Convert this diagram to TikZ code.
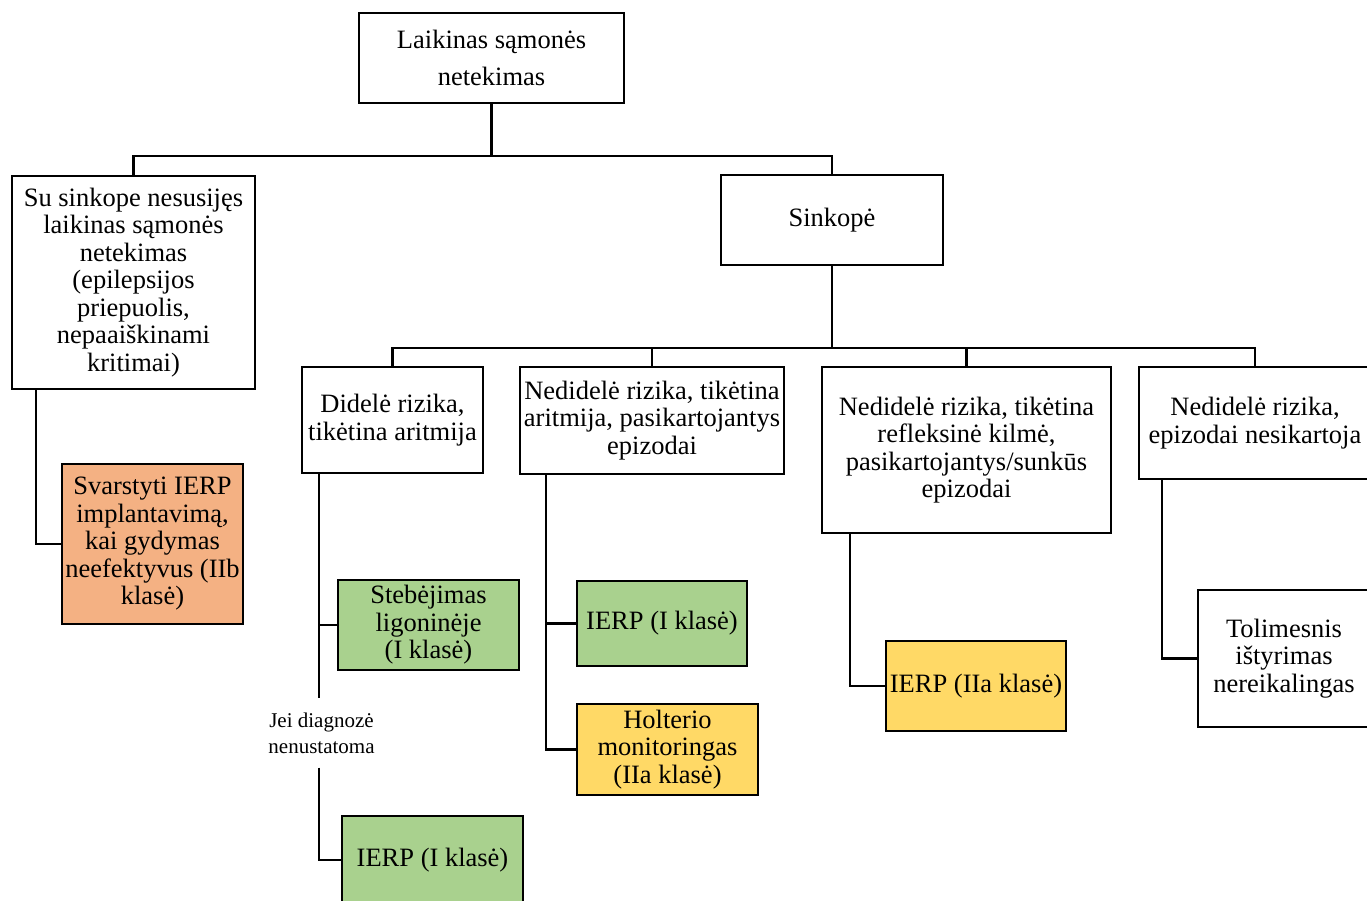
\documentclass[tikz,border=0pt]{standalone}
\usepackage{fontspec}
\setmainfont{Liberation Serif}
\usepackage{tikz}
\usetikzlibrary{positioning,calc}
\definecolor{clsorange}{HTML}{F4B183}
\definecolor{clsgreen}{HTML}{A9D18E}
\definecolor{clsyellow}{HTML}{FFD966}

\begin{document}
\begin{tikzpicture}[
  x=1pt,y=-1pt,
  font=\fontsize{26.5}{27.5}\selectfont,
  box/.style={draw,line width=2.2pt,align=center,inner sep=0pt,fill=white},
  link/.style={line width=2.2pt},
  note/.style={align=center,inner xsep=0pt,inner ysep=14pt,font=\fontsize{21}{26}\selectfont},
]
  \useasboundingbox (0,0) rectangle (1367,901);
  \clip (0,0) rectangle (1367,901);
  \node[box,minimum width=265,minimum height=90,font=\fontsize{26.5}{37}\selectfont] (loss) at (491.5,58) {Laikinas sąmonės\\netekimas};
  \node[box,minimum width=243,minimum height=213] (nonsync) at (133.5,282.5) {Su sinkope nesusijęs\\laikinas sąmonės\\netekimas\\(epilepsijos\\priepuolis,\\nepaaiškinami\\kritimai)};
  \node[box,minimum width=222,minimum height=90] (sync) at (832,220) {Sinkopė};
  \node[box,minimum width=181,minimum height=106] (high) at (392.5,420) {Didelė rizika,\\tikėtina aritmija};
  \node[box,minimum width=264,minimum height=107] (lowarr) at (652,420.5) {Nedidelė rizika, tikėtina\\aritmija, pasikartojantys\\epizodai};
  \node[box,minimum width=289,minimum height=166] (lowrefl) at (966.5,450) {Nedidelė rizika, tikėtina\\refleksinė kilmė,\\pasikartojantys/sunkūs\\epizodai};
  \node[box,minimum width=232,minimum height=112] (lownorep) at (1255,423) {Nedidelė rizika,\\epizodai nesikartoja};
  \node[box,fill=clsorange,minimum width=181,minimum height=160] (consider) at (152.5,544) {Svarstyti IERP\\implantavimą,\\kai gydymas\\neefektyvus (IIb\\klasė)};
  \node[box,fill=clsgreen,minimum width=181,minimum height=90] (observe) at (428.5,625) {Stebėjimas\\ligoninėje\\(I klasė)};
  \node[note] (undiag) at (321.5,733) {Jei diagnozė\\nenustatoma};
  \node[box,fill=clsgreen,minimum width=181,minimum height=88] (icdhigh) at (432.5,860) {IERP (I klasė)};
  \node[box,fill=clsgreen,minimum width=170,minimum height=85] (icdarr) at (662,623.5) {IERP (I klasė)};
  \node[box,fill=clsyellow,minimum width=181,minimum height=91] (holter) at (667.5,749.5) {Holterio\\monitoringas\\(IIa klasė)};
  \node[box,fill=clsyellow,minimum width=180,minimum height=90] (icdrefl) at (976,686) {IERP (IIa klasė)};
  \node[box,minimum width=172,minimum height=137] (nofurther) at (1284,658.5) {Tolimesnis\\ištyrimas\\nereikalingas};
  \coordinate (bus1) at (491.5,156);
  \coordinate (bus2) at (832,348);
  \draw[link] (loss.south) -- (bus1);
  \draw[link] (nonsync.north) |- (bus1) -| (sync.north);
  \draw[link] (sync.south) -- (bus2);
  \draw[link] (high.north) |- (bus2) -| (lownorep.north);
  \draw[link] (lowarr.north) -- (lowarr.north |- bus2);
  \draw[link] (lowrefl.north) -- (lowrefl.north |- bus2);
  \draw[link] ([xshift=25pt]nonsync.south west) |- (consider.west);
  \draw[link] ([xshift=18pt]high.south west) coordinate (h0) |- (observe.west);
  \draw[link] (h0) -- (h0 |- undiag.north);
  \draw[link] (h0 |- undiag.south) |- (icdhigh.west);
  \draw[link] ([xshift=27pt]lowarr.south west) |- (icdarr.west);
  \draw[link] ([xshift=27pt]lowarr.south west) |- (holter.west);
  \draw[link] ([xshift=29pt]lowrefl.south west) |- (icdrefl.west);
  \draw[link] ([xshift=24pt]lownorep.south west) |- (nofurther.west);
\end{tikzpicture}
\end{document}
